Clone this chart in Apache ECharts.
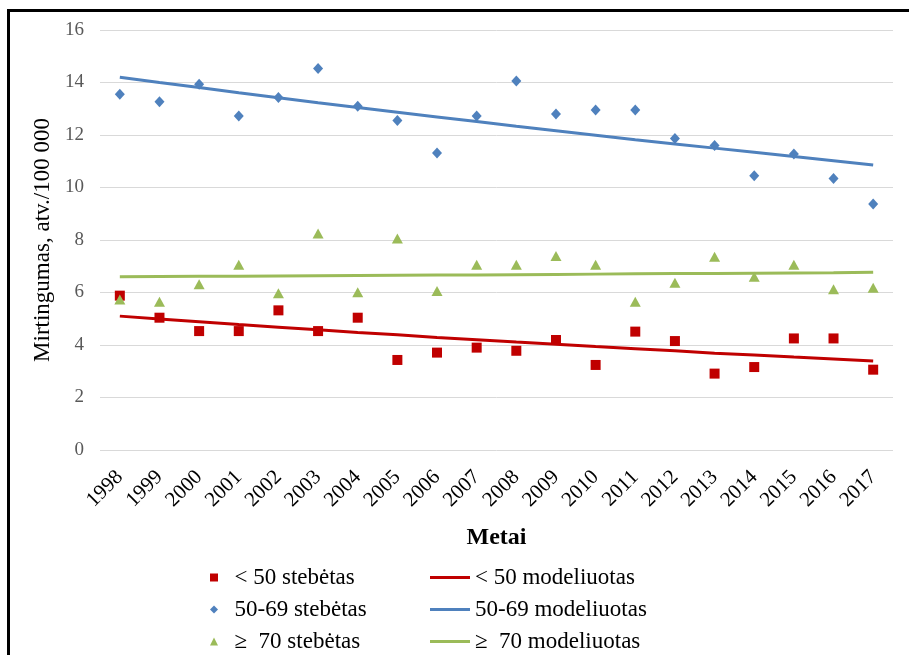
<!DOCTYPE html>
<html><head><meta charset="utf-8">
<script src="https://cdn.jsdelivr.net/npm/echarts@6/dist/echarts.min.js"></script>
<style>html,body{margin:0;padding:0;background:#fff}#c{width:909px;height:655px}</style>
</head><body><div id="c"></div>
<script>
const years = ['1998','1999','2000','2001','2002','2003','2004','2005','2006','2007','2008','2009','2010','2011','2012','2013','2014','2015','2016','2017'];
const yTicks = [0, 2, 4, 6, 8, 10, 12, 14, 16];
const under50Obs = [5.88, 5.04, 4.53, 4.53, 5.32, 4.53, 5.04, 3.43, 3.71, 3.90, 3.78, 4.19, 3.24, 4.51, 4.15, 2.91, 3.16, 4.25, 4.25, 3.06];
const mid5069Obs = [13.55, 13.27, 13.93, 12.72, 13.43, 14.53, 13.10, 12.55, 11.31, 12.72, 14.06, 12.80, 12.95, 12.95, 11.87, 11.60, 10.45, 11.28, 10.34, 9.37];
const over70Obs = [5.73, 5.65, 6.31, 7.06, 5.97, 8.25, 6.01, 8.06, 6.06, 7.06, 7.06, 7.39, 7.06, 5.65, 6.37, 7.36, 6.60, 7.06, 6.12, 6.18];
const under50Mod = [5.10, 4.99, 4.89, 4.78, 4.68, 4.58, 4.48, 4.39, 4.29, 4.20, 4.11, 4.03, 3.94, 3.86, 3.78, 3.69, 3.62, 3.54, 3.47, 3.39];
const mid5069Mod = [14.20, 14.00, 13.81, 13.61, 13.42, 13.23, 13.05, 12.87, 12.69, 12.51, 12.33, 12.16, 11.99, 11.82, 11.66, 11.50, 11.34, 11.18, 11.02, 10.86];
const over70Mod = [6.60, 6.61, 6.62, 6.62, 6.63, 6.64, 6.65, 6.66, 6.67, 6.67, 6.68, 6.69, 6.70, 6.71, 6.72, 6.72, 6.73, 6.74, 6.75, 6.77];
const names = ['< 50 stebėtas', '50-69 stebėtas', '≥  70 stebėtas', '< 50 modeliuotas', '50-69 modeliuotas', '≥  70 modeliuotas'];

const RED = '#C00000', BLUE = '#4F81BD', GREEN = '#9BBB59';
const FONT = 'Liberation Serif';
const legText = {fontSize: 23, fontFamily: FONT, color: '#000'};
const chart = echarts.init(document.getElementById('c'), null, {renderer: 'canvas'});
chart.setOption({
  animation: false,
  backgroundColor: '#fff',
  textStyle: {fontFamily: FONT},
  graphic: [{type: 'rect', left: 6, top: 8, shape: {width: 930, height: 700}, style: {fill: 'none', stroke: '#000', lineWidth: 3}, z: 100}],
  grid: {left: 100, right: 16, top: 30, bottom: 205},
  xAxis: {
    type: 'category', data: years, boundaryGap: true,
    axisLine: {show: false}, axisTick: {show: false},
    axisLabel: {rotate: 45, color: '#000', fontSize: 21, fontFamily: FONT, margin: 24, interval: 0},
    name: 'Metai', nameLocation: 'middle', nameGap: 76,
    nameTextStyle: {color: '#000', fontSize: 24, fontWeight: 'bold', fontFamily: FONT}
  },
  yAxis: {
    type: 'value', min: yTicks[0], max: yTicks[yTicks.length - 1], interval: 2,
    axisLine: {show: false}, axisTick: {show: false},
    splitLine: {lineStyle: {color: '#d9d9d9', width: 1}},
    axisLabel: {color: '#595959', fontSize: 19, fontFamily: FONT, margin: 16},
    name: 'Mirtingumas, atv./100 000', nameLocation: 'middle', nameGap: 41,
    nameTextStyle: {color: '#000', fontSize: 23, fontFamily: FONT}
  },
  legend: [
    {data: names.slice(0, 3), orient: 'vertical', left: 210, top: 566, padding: 0,
     itemWidth: 8, itemHeight: 8, itemGap: 9, formatter: n => '  ' + n, textStyle: legText},
    {data: names.slice(3, 6), orient: 'vertical', left: 430, top: 566, padding: 0,
     itemWidth: 40, itemHeight: 3, itemGap: 9, icon: 'rect', textStyle: legText}
  ],
  series: [
    {name: names[3], type: 'line', data: under50Mod, showSymbol: false, symbol: 'none', lineStyle: {color: RED, width: 3}, itemStyle: {color: RED}, z: 2},
    {name: names[4], type: 'line', data: mid5069Mod, showSymbol: false, symbol: 'none', lineStyle: {color: BLUE, width: 3}, itemStyle: {color: BLUE}, z: 2},
    {name: names[5], type: 'line', data: over70Mod, showSymbol: false, symbol: 'none', lineStyle: {color: GREEN, width: 3}, itemStyle: {color: GREEN}, z: 2},
    {name: names[0], type: 'scatter', data: under50Obs, symbol: 'rect', symbolSize: 10, itemStyle: {color: RED, opacity: 1}, z: 3},
    {name: names[1], type: 'scatter', data: mid5069Obs, symbol: 'diamond', symbolSize: [10, 11], itemStyle: {color: BLUE, opacity: 1}, z: 3},
    {name: names[2], type: 'scatter', data: over70Obs, symbol: 'triangle', symbolSize: [11, 10], itemStyle: {color: GREEN, opacity: 1}, z: 3}
  ]
});
</script></body></html>
